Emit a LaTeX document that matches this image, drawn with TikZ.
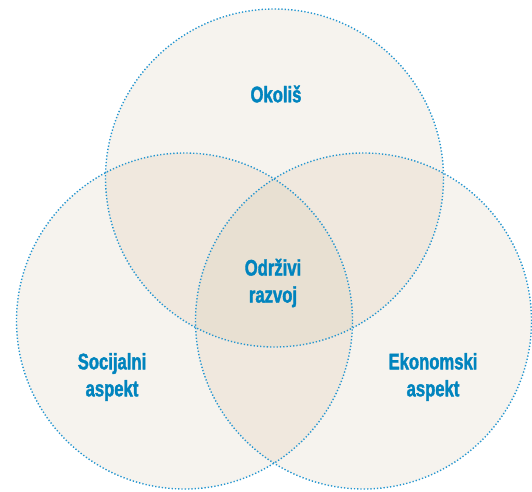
\documentclass[tikz,border=0pt]{standalone}
\usepackage{fontspec}
\setmainfont{Liberation Sans}[FakeStretch=0.74, BoldFeatures={FakeBold=1.6}]
\definecolor{basefill}{HTML}{F6F3EE}
\definecolor{pairfill}{HTML}{F0E8DE}
\definecolor{triplefill}{HTML}{E8E0D2}
\definecolor{dotline}{HTML}{2496D0}
\definecolor{labelblue}{HTML}{0084BE}
\tikzset{
  ring/.style={draw=dotline, line width=1.4pt, dash pattern=on 1.3pt off 2.0pt},
  lbl/.style={text=labelblue, font=\fontsize{22.5}{27}\selectfont\bfseries, align=center, inner sep=0pt},
}
\begin{document}
\begin{tikzpicture}[x=1pt,y=1pt]
\useasboundingbox (0,0) rectangle (532,491);
\coordinate (ct) at (274.5,313);
\coordinate (cl) at (184.5,170);
\coordinate (cr) at (363.5,170);
% base fills
\fill[basefill] (ct) circle (169);
\fill[basefill] (cl) circle (168);
\fill[basefill] (cr) circle (168);
% pairwise overlaps
\begin{scope}
  \clip (ct) circle (169);
  \fill[pairfill] (cl) circle (168);
  \fill[pairfill] (cr) circle (168);
\end{scope}
\begin{scope}
  \clip (cl) circle (168);
  \fill[pairfill] (cr) circle (168);
\end{scope}
% triple overlap
\begin{scope}
  \clip (ct) circle (169);
  \clip (cl) circle (168);
  \fill[triplefill] (cr) circle (168);
\end{scope}
% outlines
\draw[ring] (ct) circle (169);
\draw[ring] (cl) circle (168);
\draw[ring] (cr) circle (168);
% labels
\node[lbl] (okolis) at (276,397) {Okoliš};
\node[lbl] (odrzivi) at (273,208) {Održivi\\razvoj};
\node[lbl] (socijalni) at (112,114) {Socijalni\\aspekt};
\node[lbl] (ekonomski) at (433,114) {Ekonomski\\aspekt};
\end{tikzpicture}
\end{document}
